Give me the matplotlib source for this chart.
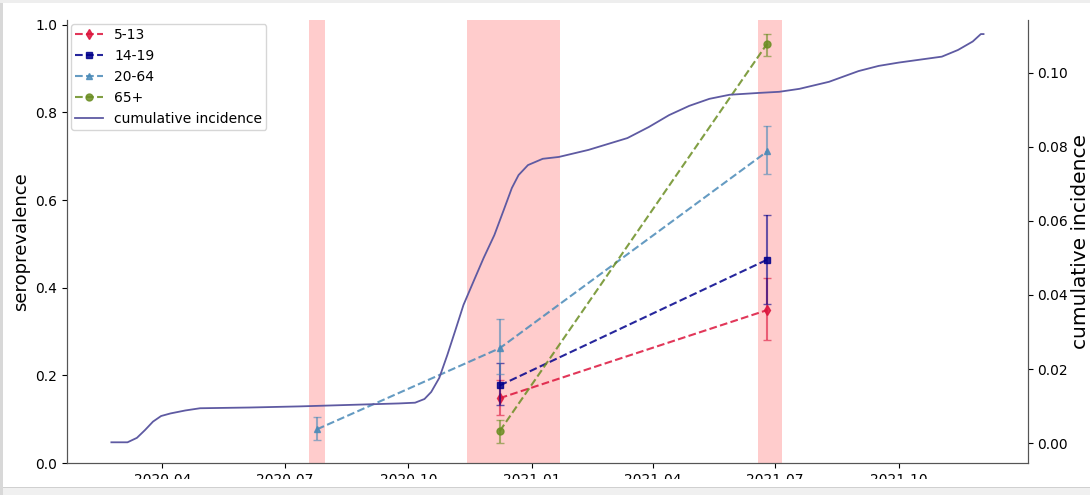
import matplotlib
matplotlib.use("Agg")
import matplotlib.pyplot as plt
import matplotlib.dates as mdates
import matplotlib.patches as patches
import pandas as pd

# survey rounds (sample dates) and shaded survey windows
survey_dates = ["2020-07-25", "2020-12-08", "2021-06-25"]
windows = [("2020-07-19", "2020-07-31"),
           ("2020-11-14", "2021-01-22"),
           ("2021-06-18", "2021-07-06")]
x_ticks = ["2020-04-01", "2020-07-01", "2020-10-01", "2021-01-01",
           "2021-04-01", "2021-07-01", "2021-10-01"]

# seroprevalence per age group: value, lower, upper (one entry per round)
age_groups = ["5-13", "14-19", "20-64", "65+"]
prev_5_13 = [None, 0.148, 0.349]
low_5_13 = [None, 0.110, 0.281]
high_5_13 = [None, 0.190, 0.423]
prev_14_19 = [None, 0.177, 0.464]
low_14_19 = [None, 0.132, 0.363]
high_14_19 = [None, 0.229, 0.565]
prev_20_64 = [0.077, 0.262, 0.711]
low_20_64 = [0.052, 0.203, 0.660]
high_20_64 = [0.104, 0.328, 0.768]
prev_65 = [None, 0.073, 0.957]
low_65 = [None, 0.045, 0.928]
high_65 = [None, 0.098, 0.979]

# cumulative incidence
ci_dates = ["2020-02-23", "2020-03-06", "2020-03-13", "2020-03-19", "2020-03-25",
            "2020-03-31", "2020-04-07", "2020-04-18", "2020-04-29", "2020-06-05",
            "2020-07-12", "2020-08-18", "2020-09-24", "2020-10-06", "2020-10-13",
            "2020-10-18", "2020-10-24", "2020-10-30", "2020-11-05", "2020-11-11",
            "2020-11-19", "2020-11-26", "2020-12-04", "2020-12-11", "2020-12-17",
            "2020-12-22", "2020-12-29", "2021-01-09", "2021-01-21", "2021-02-12",
            "2021-03-13", "2021-03-29", "2021-04-13", "2021-04-28", "2021-05-13",
            "2021-05-28", "2021-06-19", "2021-07-04", "2021-07-19", "2021-08-10",
            "2021-09-01", "2021-09-16", "2021-10-01", "2021-11-02", "2021-11-14",
            "2021-11-25", "2021-12-01", "2021-12-03"]
ci_values = [0.0002, 0.0002, 0.0014, 0.0035, 0.0058,
             0.0073, 0.0080, 0.0088, 0.0094, 0.0096,
             0.0099, 0.0103, 0.0107, 0.0109, 0.0119,
             0.0138, 0.0176, 0.0238, 0.0305, 0.0373,
             0.0441, 0.0500, 0.0562, 0.0630, 0.0689,
             0.0724, 0.0751, 0.0768, 0.0773, 0.0792,
             0.0824, 0.0854, 0.0886, 0.0911, 0.0930,
             0.0941, 0.0946, 0.0949, 0.0957, 0.0976,
             0.1005, 0.1019, 0.1028, 0.1044, 0.1062,
             0.1085, 0.1105, 0.1105]

series = [
    (prev_5_13, low_5_13, high_5_13, "#dc143c", "d"),
    (prev_14_19, low_14_19, high_14_19, "#00008b", "s"),
    (prev_20_64, low_20_64, high_20_64, "#4a8ab8", "^"),
    (prev_65, low_65, high_65, "#6b8e23", "o"),
]

fig = plt.figure(figsize=(10.9, 4.95), dpi=100)
ax = fig.add_axes([0.0615, 0.0646, 0.8815, 0.895])
ax2 = ax.twinx()

for start, end in windows:
    ax.axvspan(pd.to_datetime(start), pd.to_datetime(end), color="red", alpha=0.2, lw=0)

handles = []
for (vals, lo, hi, color, marker), name in zip(series, age_groups):
    idx = [i for i, v in enumerate(vals) if v is not None]
    x = pd.to_datetime([survey_dates[i] for i in idx])
    y = [vals[i] for i in idx]
    yerr = [[vals[i] - lo[i] for i in idx], [hi[i] - vals[i] for i in idx]]
    ax.errorbar(x, y, yerr=yerr, fmt="none", ecolor=color, alpha=0.6,
                capsize=3, elinewidth=1.5)
    h, = ax.plot(x, y, "--", color=color, marker=marker, markersize=5,
                 alpha=0.85, label=name)
    handles.append(h)

ci, = ax2.plot(pd.to_datetime(ci_dates), ci_values, color="#5e5aa2",
               lw=1.3, label="cumulative incidence")
handles.append(ci)

ax.set_ylim(0, 1.011)
ax2.set_ylim(-0.0054, 0.1143)
ax.set_yticks([0.0, 0.2, 0.4, 0.6, 0.8, 1.0])
ax2.set_yticks([0.0, 0.02, 0.04, 0.06, 0.08, 0.10])
ax.set_ylabel("seroprevalence", fontsize=13, labelpad=4)
ax2.set_ylabel("cumulative incidence", fontsize=14.5, labelpad=2)

ax.set_xticks(pd.to_datetime(x_ticks))
ax.xaxis.set_major_formatter(mdates.DateFormatter("%Y-%m"))
ax.set_xlim(pd.to_datetime("2020-01-21"), pd.to_datetime("2022-01-05"))

for a in (ax, ax2):
    a.tick_params(labelsize=10)
    a.spines["top"].set_visible(False)
    for s in a.spines.values():
        s.set_color("#555555")

ax2.legend(handles=handles, loc="upper left", fontsize=10, labelspacing=0.5,
           borderpad=0.3, bbox_to_anchor=(0.0, 1.0), borderaxespad=0.3)

# screenshot frame: labels cropped at the bottom, grey strips round the edge
frame = [
    patches.Rectangle((0, 7 / 495), 1, 9 / 495, transform=fig.transFigure,
                      facecolor="white", edgecolor="none", zorder=10),
    patches.Rectangle((0, 0), 1, 7 / 495, transform=fig.transFigure,
                      facecolor="#f0f0f0", edgecolor="none", zorder=10),
    patches.Rectangle((0, 7 / 495), 1, 1.5 / 495, transform=fig.transFigure,
                      facecolor="#d0d0d0", edgecolor="none", zorder=10),
    patches.Rectangle((0, 0), 3 / 1090, 1, transform=fig.transFigure,
                      facecolor="#d8d8d8", edgecolor="none", zorder=10),
    patches.Rectangle((0, 1 - 3 / 495), 1, 3 / 495, transform=fig.transFigure,
                      facecolor="#eeeeee", edgecolor="none", zorder=10),
]
for p in frame:
    fig.patches.append(p)

fig.savefig("out.png", dpi=100)
